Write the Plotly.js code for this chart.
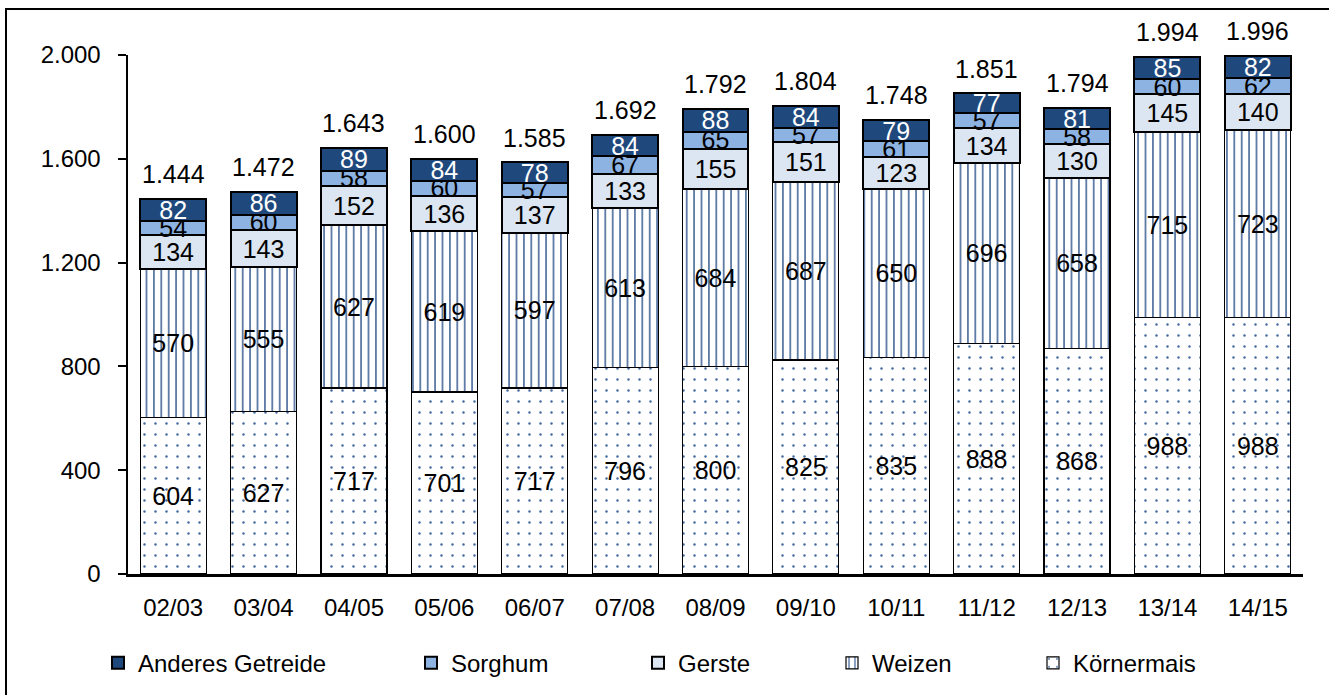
<!DOCTYPE html>
<html>
<head>
<meta charset="utf-8">
<script src="https://cdn.plot.ly/plotly-3.0.1.min.js"></script>
<style>
html,body{margin:0;padding:0;background:#fff;}
#chart{width:1329px;height:695px;}
#frame{position:absolute;left:5px;top:8px;width:1400px;height:800px;border-left:2.5px solid #000;border-top:2.5px solid #000;pointer-events:none;}
</style>
</head>
<body>
<div id="chart"></div>
<div id="frame"></div>
<script>
const categories = ['02/03','03/04','04/05','05/06','06/07','07/08','08/09','09/10','10/11','11/12','12/13','13/14','14/15'];
const koernermais = [604,627,717,701,717,796,800,825,835,888,868,988,988];
const weizen = [570,555,627,619,597,613,684,687,650,696,658,715,723];
const gerste = [134,143,152,136,137,133,155,151,123,134,130,145,140];
const sorghum = [54,60,58,60,57,67,65,57,61,57,58,60,62];
const anderes = [82,86,89,84,78,84,88,84,79,77,81,85,82];
const totals = [1444,1472,1643,1600,1585,1692,1792,1804,1748,1851,1794,1994,1996];
const yTicks = [0,400,800,1200,1600,2000];

const FONT = 'Liberation Sans, Arial, sans-serif';
function de(n){ return String(n).replace(/\B(?=(\d{3})+(?!\d))/g,'.'); }

function bar(name, vals, marker, legend, txtColor){
  return {
    type:'bar', name:name, x:categories, y:vals,
    text: vals.map(String), textposition:'inside', insidetextanchor:'middle',
    constraintext:'none', textangle:0,
    textfont:{family:FONT,size:25,color:txtColor},
    marker:marker, legend:legend, hoverinfo:'skip'
  };
}

const data = [
  bar('Körnermais', koernermais, {color:'#ffffff', line:{color:'#000',width:1.2},
      pattern:{shape:'.', fgcolor:'#44699f', bgcolor:'#ffffff', size:11, solidity:0.04}}, 'legend5', '#000'),
  bar('Weizen', weizen, {color:'#ffffff', line:{color:'#000',width:1.2},
      pattern:{shape:'|', fgcolor:'#4a6b9c', bgcolor:'#ffffff', size:7.4, solidity:0.22}}, 'legend4', '#000'),
  bar('Gerste', gerste, {color:'#dce6f2', line:{color:'#000',width:2}}, 'legend3', '#000'),
  bar('Sorghum', sorghum, {color:'#8db3e2', line:{color:'#000',width:2}}, 'legend2', '#000'),
  bar('Anderes Getreide', anderes, {color:'#1f497d', line:{color:'#000',width:2}}, 'legend', '#fff')
];

const annotations = categories.map((c,i)=>({
  x:c, y:totals[i], xref:'x', yref:'y', text:de(totals[i]), showarrow:false,
  yanchor:'bottom', yshift:9, font:{family:FONT,size:25,color:'#000'}
}));

function leg(px){
  return {orientation:'h', x:(px-128)/1175, xanchor:'left', y:-0.172, yanchor:'middle',
    font:{family:FONT,size:24,color:'#000'}, bgcolor:'rgba(0,0,0,0)', borderwidth:0, itemwidth:30};
}

const layout = {
  width:1329, height:695,
  margin:{l:128, r:26, t:55, b:121, autoexpand:false},
  paper_bgcolor:'#fff', plot_bgcolor:'#fff',
  barmode:'stack', bargap:0.27,
  separators:',.',
  font:{family:FONT,size:22,color:'#000'},
  xaxis:{type:'category', showline:true, linecolor:'#000', linewidth:3, ticks:'',
    tickfont:{family:FONT,size:24,color:'#000'}, ticklabelstandoff:10, showgrid:false, zeroline:false},
  yaxis:{range:[0,2000], tickvals:yTicks, ticktext:yTicks.map(de), showline:true, linecolor:'#000', linewidth:2.5,
    ticks:'outside', ticklen:8, tickwidth:2, tickcolor:'#000', showgrid:false, zeroline:false,
    tickfont:{family:FONT,size:24,color:'#000'}, ticklabelstandoff:12},
  annotations:annotations,
  legend: leg(98),
  legend2: leg(411),
  legend3: leg(638),
  legend4: leg(832),
  legend5: leg(1033),
  showlegend:true
};

Plotly.newPlot('chart', data, layout, {displayModeBar:false, staticPlot:true});
</script>
</body>
</html>
